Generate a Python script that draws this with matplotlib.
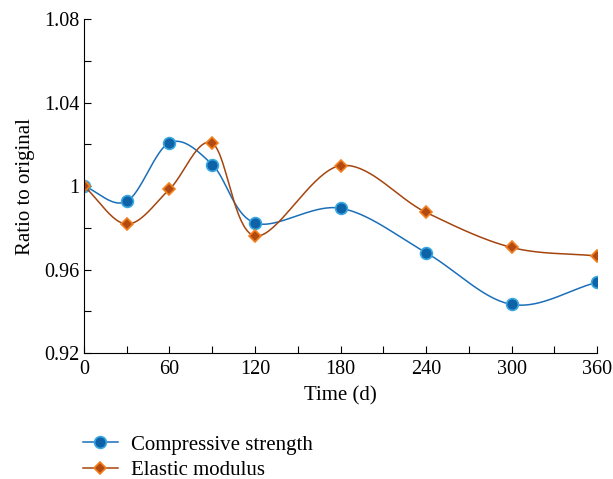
import numpy as np
import matplotlib as mpl
import matplotlib.pyplot as plt
from matplotlib.ticker import MultipleLocator

mpl.rcParams['font.family'] = ['Liberation Serif', 'DejaVu Serif']
mpl.rcParams['font.size'] = 14

days = [0, 30, 60, 90, 120, 180, 240, 300, 360]
compressive = [1.000, 0.9927, 1.0208, 1.0103, 0.9823, 0.9894, 0.9681, 0.9433, 0.9539]
elastic = [1.000, 0.9818, 0.9985, 1.0205, 0.9761, 1.0098, 0.9874, 0.9706, 0.9665]

xticks = [0, 60, 120, 180, 240, 300, 360]
yticks = [0.92, 0.96, 1.00, 1.04, 1.08]
ytick_labels = ['0.92', '0.96', '1', '1.04', '1.08']


def smooth(x, y, n=40):
    # catmull-rom curve through the points (like a "smoothed line")
    x = np.asarray(x, float)
    y = np.asarray(y, float)
    px = np.concatenate([[2 * x[0] - x[1]], x, [2 * x[-1] - x[-2]]])
    py = np.concatenate([[2 * y[0] - y[1]], y, [2 * y[-1] - y[-2]]])
    t = np.linspace(0, 1, n)
    xs, ys = [], []
    for i in range(1, len(px) - 2):
        for p, out in ((px, xs), (py, ys)):
            p0, p1, p2, p3 = p[i - 1], p[i], p[i + 1], p[i + 2]
            out.append(0.5 * (2 * p1 + (-p0 + p2) * t
                              + (2 * p0 - 5 * p1 + 4 * p2 - p3) * t ** 2
                              + (-p0 + 3 * p1 - 3 * p2 + p3) * t ** 3))
    return np.concatenate(xs), np.concatenate(ys)


fig = plt.figure(figsize=(6.13, 4.79), dpi=100)
ax = fig.add_axes([0.137, 0.263, 0.837, 0.697])

blue_line = '#1b6fb8'
orange_line = '#a4450f'

sx, sy = smooth(days, compressive)
ax.plot(sx, sy, color=blue_line, lw=1.1)
ax.plot(days, compressive, 'o', ms=8.5, mfc='#0e62a8', mec='#3aa8e0', mew=1.2)

sx, sy = smooth(days, elastic)
ax.plot(sx, sy, color=orange_line, lw=1.1)
ax.plot(days, elastic, 'D', ms=6, mfc='#b34a12', mec='#f2801f', mew=1.2)

ax.set_xlim(0, 360)
ax.set_ylim(0.92, 1.08)
ax.set_xticks(xticks)
ax.set_yticks(yticks)
ax.set_yticklabels(ytick_labels)
ax.xaxis.set_minor_locator(MultipleLocator(30))
ax.yaxis.set_minor_locator(MultipleLocator(0.02))
ax.tick_params(which='both', direction='in', length=5, width=0.8, labelsize=14.5)
ax.tick_params(axis='x', pad=5)
ax.spines['top'].set_visible(False)
ax.spines['right'].set_visible(False)
ax.set_xlabel('Time (d)', fontsize=15, labelpad=5)
ax.set_ylabel('Ratio to original', fontsize=15, labelpad=6)

h1, = ax.plot([], [], color=blue_line, lw=1.1, marker='o', ms=8.5,
              mfc='#0e62a8', mec='#3aa8e0', mew=1.2)
h2, = ax.plot([], [], color=orange_line, lw=1.1, marker='D', ms=6,
              mfc='#b34a12', mec='#f2801f', mew=1.2)
fig.legend([h1, h2], ['Compressive strength', 'Elastic modulus'],
           loc='upper left', bbox_to_anchor=(0.135, 0.092), frameon=False,
           fontsize=15, handlelength=1.7, handletextpad=0.6,
           labelspacing=0.3, borderaxespad=0, borderpad=0)

plt.savefig('out.png', dpi=100)
